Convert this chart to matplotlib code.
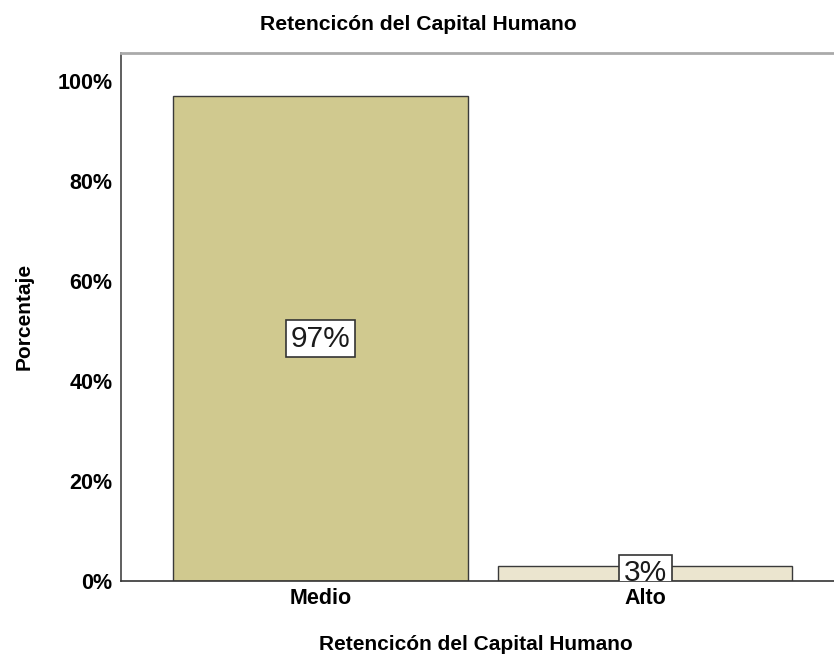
import matplotlib
matplotlib.use("Agg")
import matplotlib.pyplot as plt
from matplotlib.ticker import FuncFormatter

# Retention levels and their share of respondents (%)
categories = ["Medio", "Alto"]
percentages = [97, 3]
bar_colors = ["#D0C98F", "#EBE5CF"]
y_ticks = [0, 20, 40, 60, 80, 100]

title = "Retencicón del Capital Humano"
x_label = "Retencicón del Capital Humano"
y_label = "Porcentaje"

plt.rcParams["font.family"] = ["Liberation Sans", "DejaVu Sans"]

fig = plt.figure(figsize=(8.34, 6.55), dpi=100)
ax = fig.add_axes([0.1451, 0.113, 0.868, 0.8066])

x = list(range(len(categories)))
ax.bar(x, percentages, width=0.905, color=bar_colors,
       edgecolor="#3a3a3a", linewidth=1.0, zorder=2)

# value labels in white boxes, centred half way up each bar
for xi, val in zip(x, percentages):
    ax.text(xi, val / 2, f"{val}%", ha="center", va="center",
            fontsize=21.5, color="#1a1a1a", zorder=4, clip_on=True,
            bbox=dict(boxstyle="square,pad=0.16", facecolor="white",
                      edgecolor="#333333", linewidth=1.2))

ax.set_xlim(-0.614, 1.614)
ax.set_ylim(0, 105.7)
ax.set_xticks(x)
ax.set_xticklabels(categories, fontsize=15.5, fontweight="bold")
ax.set_yticks(y_ticks)
ax.yaxis.set_major_formatter(FuncFormatter(lambda v, _: f"{v:.0f}%"))
ax.tick_params(axis="y", length=0, pad=6, labelsize=15.5)
ax.tick_params(axis="x", length=0, pad=5)
for lbl in ax.get_yticklabels():
    lbl.set_fontweight("bold")

ax.spines["left"].set_color("#444444")
ax.spines["left"].set_linewidth(1.2)
ax.spines["bottom"].set_color("#333333")
ax.spines["bottom"].set_linewidth(1.2)
ax.spines["top"].set_color("#aaaaaa")
ax.spines["top"].set_linewidth(2.0)
ax.spines["right"].set_visible(False)

fig.text(418 / 834, 1 - 25 / 655, title, ha="center", va="center",
         fontsize=15.2, fontweight="bold")
fig.text(476 / 834, 1 - 644 / 655, x_label, ha="center", va="center",
         fontsize=15, fontweight="bold")
fig.text(24 / 834, 1 - 316 / 655, y_label, ha="center", va="center",
         rotation=90, fontsize=15, fontweight="bold")

fig.savefig("out.png", dpi=100, facecolor="white")
